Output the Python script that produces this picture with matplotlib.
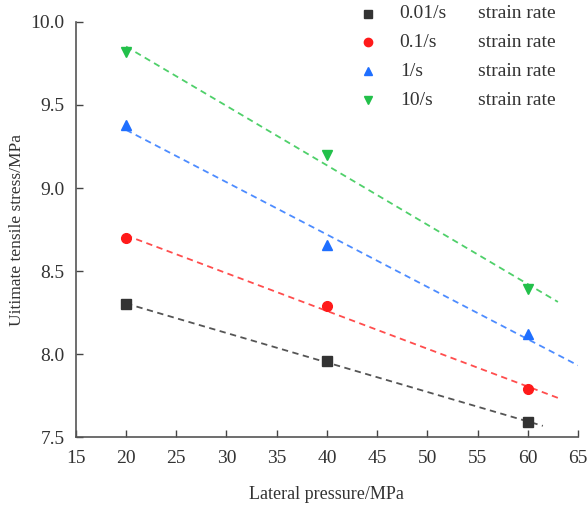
import numpy as np
import matplotlib
matplotlib.use("Agg")
import matplotlib.pyplot as plt

plt.rcParams['font.family'] = ['Liberation Serif', 'DejaVu Serif']

pressure = [20, 40, 60]
rates = ['0.01/s', '0.1/s', '1/s', '10/s']
stress_001 = [8.30, 7.96, 7.59]
stress_01 = [8.70, 8.29, 7.79]
stress_1 = [9.38, 8.66, 8.12]
stress_10 = [9.82, 9.20, 8.39]
fit_end = [61.5, 63.0, 65.0, 63.0]   # where each dashed fit line stops

series = [stress_001, stress_01, stress_1, stress_10]
markers = ['s', 'o', '^', 'v']
colors = ['#333333', '#ff1a1a', '#1f6fff', '#22c04a']
line_colors = ['#555555', '#ff4d4d', '#4d8cff', '#4fd06a']

fig = plt.figure(figsize=(5.88, 5.09), dpi=100)
ax = fig.add_axes([0.129, 0.141, 0.854, 0.816])

for ys, m, c, lc, xe in zip(series, markers, colors, line_colors, fit_end):
    k, b = np.polyfit(pressure, ys, 1)
    xf = np.array([pressure[0], xe])
    ax.plot(xf, k * xf + b, '--', color=lc, lw=1.3, dashes=(3.5, 2.5), zorder=2)
    ax.plot(pressure, ys, m, color=c, ms=7, mec=c, zorder=3, clip_on=False)

ax.set_xlim(15, 65)
ax.set_ylim(7.5, 10.0)
ax.set_xticks(np.arange(15, 66, 5))
ax.set_yticks(np.arange(7.5, 10.01, 0.5))
ax.yaxis.set_major_formatter(matplotlib.ticker.FormatStrFormatter('%.1f'))
ax.tick_params(direction='in', length=5, width=1, labelsize=14, colors='#444444',
               labelcolor='#333333')
ax.tick_params(axis='x', pad=9)
ax.tick_params(axis='y', pad=8)
for s in ['top', 'right']:
    ax.spines[s].set_visible(False)
for s in ['left', 'bottom']:
    ax.spines[s].set_color('#555555')
    ax.spines[s].set_linewidth(1.2)

ax.set_xlabel('Lateral pressure/MPa', fontsize=13, color='#333333', labelpad=14)
ax.set_ylabel('Uitimate tensile stress/MPa', fontsize=12.5, color='#333333', labelpad=4)

# legend drawn by hand so "strain rate" lines up in its own column
leg_y = [1.019, 0.951, 0.881, 0.811]
for r, m, c, yy in zip(rates, markers, colors, leg_y):
    ax.plot([0.582], [yy], m, color=c, ms=6, transform=ax.transAxes, clip_on=False)
    ax.text(0.645, yy, r, transform=ax.transAxes, va='center', ha='left',
            fontsize=14, color='#333333')
    ax.text(0.801, yy, 'strain rate', transform=ax.transAxes, va='center', ha='left',
            fontsize=14, color='#333333')

fig.savefig('out.png', dpi=100)
